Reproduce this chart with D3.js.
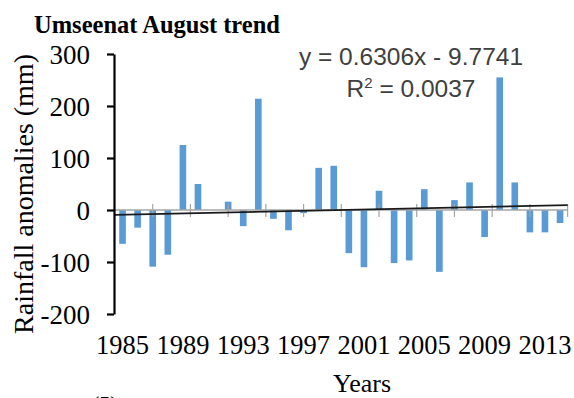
<!DOCTYPE html>
<html>
<head>
<meta charset="utf-8">
<script src="https://cdn.jsdelivr.net/npm/d3@7"></script>
<style>
  html, body { margin: 0; padding: 0; background: #fff; }
  svg { display: block; }
  .serif { font-family: "Liberation Serif", "Times New Roman", serif; fill: #000; }
  .sans { font-family: "Liberation Sans", Arial, sans-serif; fill: #404040; }
</style>
</head>
<body>
<svg id="chart" width="574" height="398"></svg>
<script>
// August rainfall anomalies at Umseenat, 1985-2014 (mm)
const years = d3.range(1985, 2015);
const anomalies = [
  -65, -34, -109, -86, 125, 50, 0, 16, -31, 214,
  -17, -39, -6, 81, 85, -83, -110, 37, -102, -97,
  40, -119, 19, 53, -52, 255, 53, -43, -43, -25
];
const yTicks = [-200, -100, 0, 100, 200, 300];
const xLabelYears = [1985, 1989, 1993, 1997, 2001, 2005, 2009, 2013];

// Linear trend fitted over the category index (1..30)
const trendSlope = 0.6306;
const trendIntercept = -9.7741;
const trendR2 = 0.0037;

const svg = d3.select("#chart");
const plot = { left: 115, right: 567.6, top: 54, bottom: 314 };

const x = d3.scaleBand()
  .domain(years)
  .range([plot.left, plot.right])
  .paddingInner(0.56)
  .paddingOuter(0.28);

const y = d3.scaleLinear()
  .domain([-200, 300])
  .range([plot.bottom, plot.top]);

// category index scale for the trend line (index 1 at the first bar centre)
const xIdx = d3.scaleLinear()
  .domain([0.5, years.length + 0.5])
  .range([plot.left, plot.right]);

// bars
svg.append("g")
  .selectAll("rect")
  .data(years.map((yr, i) => ({ yr, v: anomalies[i] })))
  .join("rect")
  .attr("x", d => x(d.yr))
  .attr("width", x.bandwidth())
  .attr("y", d => y(Math.max(0, d.v)))
  .attr("height", d => Math.abs(y(d.v) - y(0)))
  .attr("fill", "#5B9BD5");

// horizontal category axis along zero, with crossing tick marks
const catTicks = d3.scaleLinear().domain([0, 12]).range([plot.left, plot.right]);
const xAxisG = svg.append("g").attr("transform", `translate(0,${y(0)})`);
xAxisG.append("line")
  .attr("x1", plot.left).attr("x2", plot.right)
  .attr("stroke", "#a6a6a6").attr("stroke-width", 1.5);
xAxisG.selectAll("line.tk")
  .data(d3.range(1, 13))
  .join("line")
  .attr("class", "tk")
  .attr("x1", d => catTicks(d)).attr("x2", d => catTicks(d))
  .attr("y1", -6).attr("y2", 7)
  .attr("stroke", "#a6a6a6").attr("stroke-width", 1.2);

// trend line
svg.append("line")
  .attr("x1", xIdx(0.5)).attr("y1", y(trendSlope * 0.5 + trendIntercept))
  .attr("x2", xIdx(years.length + 0.5)).attr("y2", y(trendSlope * (years.length + 0.5) + trendIntercept))
  .attr("stroke", "#1a1a1a").attr("stroke-width", 1.6);

// y axis (plain hyphen for negatives)
const yAxis = d3.axisLeft(y)
  .tickValues(yTicks)
  .tickSize(7)
  .tickSizeOuter(0)
  .tickPadding(17)
  .tickFormat(d => String(d));
const yAxisG = svg.append("g")
  .attr("transform", `translate(${plot.left - 1},0)`)
  .call(yAxis);
yAxisG.select(".domain").attr("stroke", "#000").attr("stroke-width", 2.2);
yAxisG.selectAll(".tick line").attr("stroke", "#000").attr("stroke-width", 2.2);
yAxisG.selectAll(".tick text")
  .attr("class", "serif")
  .style("font-size", "27px")
  .attr("dy", "0.34em");

// x labels every fourth year
svg.append("g")
  .selectAll("text")
  .data(xLabelYears)
  .join("text")
  .attr("class", "serif")
  .attr("x", d => x(d) + x.bandwidth() / 2)
  .attr("y", 354)
  .attr("text-anchor", "middle")
  .style("font-size", "26.5px")
  .text(d => d);

// title
svg.append("text")
  .attr("class", "serif")
  .attr("x", 34).attr("y", 33)
  .style("font-size", "24.5px")
  .style("font-weight", "bold")
  .text("Umseenat August trend");

// axis titles
svg.append("text")
  .attr("class", "serif")
  .attr("transform", "translate(33,194) rotate(-90)")
  .attr("text-anchor", "middle")
  .style("font-size", "28px")
  .text("Rainfall anomalies (mm)");

svg.append("text")
  .attr("class", "serif")
  .attr("x", 362).attr("y", 392)
  .attr("text-anchor", "middle")
  .style("font-size", "26px")
  .text("Years");

// figure panel number under the chart
svg.append("text")
  .attr("class", "serif")
  .attr("x", 92).attr("y", 411)
  .style("font-size", "22px")
  .text("(5)");

// trend equation
const fmt4 = d3.format(".4f");
svg.append("text")
  .attr("class", "sans")
  .attr("x", 411).attr("y", 65)
  .attr("text-anchor", "middle")
  .style("font-size", "24.5px")
  .text(`y = ${fmt4(trendSlope)}x - ${fmt4(-trendIntercept)}`);

const r2 = svg.append("text")
  .attr("class", "sans")
  .attr("x", 411).attr("y", 97)
  .attr("text-anchor", "middle")
  .style("font-size", "24.5px");
r2.append("tspan").text("R");
r2.append("tspan").attr("dy", -9).style("font-size", "15px").text("2");
r2.append("tspan").attr("dy", 9).text(` = ${fmt4(trendR2)}`);
</script>
</body>
</html>
